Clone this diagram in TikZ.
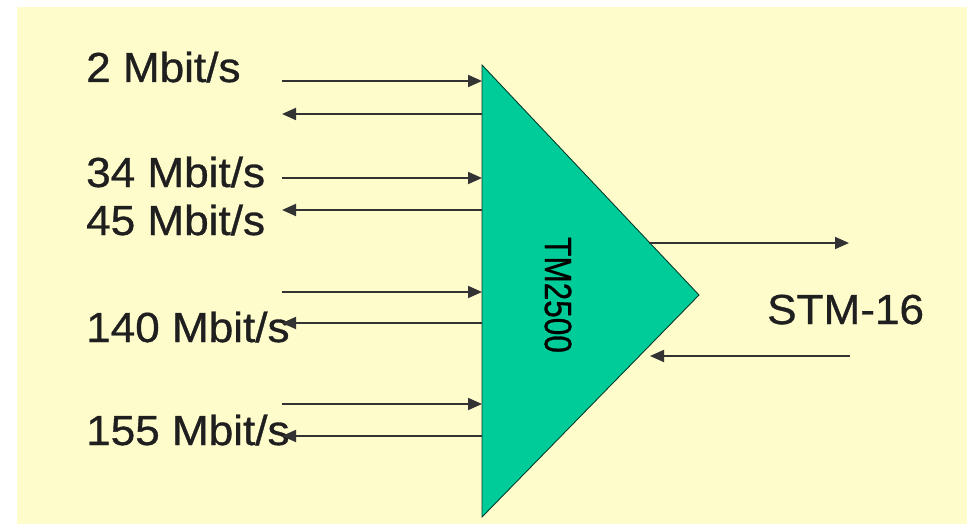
\documentclass[tikz,border=0pt]{standalone}
\usepackage{fontspec}
\setmainfont{Liberation Sans}
\newfontfamily\labfont[FakeStretch=1.05,FakeBold=0.8]{Liberation Sans}
\newfontfamily\tmfont[FakeStretch=0.83,FakeBold=0.8]{Liberation Sans}
\usetikzlibrary{arrows.meta}
\definecolor{bgyellow}{RGB}{255,252,204}
\definecolor{tmgreen}{RGB}{0,204,153}
\tikzset{
  lab/.style={anchor=base west, inner sep=0pt, font=\labfont\fontsize{42}{42}\selectfont, text=black!88},
  sig/.style={line width=1.8pt, draw=black!80, -{Triangle[length=14pt,width=12pt]}},
  tmbox/.style={fill=tmgreen, draw=black!70!tmgreen, line width=0.9pt, line join=miter},
}
\begin{document}
\begin{tikzpicture}[x=1pt,y=-1pt]
\useasboundingbox (0,0) rectangle (967,524);
\fill[bgyellow] (17,7) rectangle (967,524);
% multiplexer triangle
\coordinate (ta) at (482,65);
\coordinate (tb) at (482,517);
\coordinate (tc) at (699,295);
\path[tmbox] (ta) -- (tc) -- (tb) -- cycle;
\node[rotate=-90, inner sep=0pt, font=\tmfont\fontsize{38}{38}\selectfont] (tm) at (558,295) {TM2500};
% labels
\node[lab] (l2) at (86,82) {2 Mbit/s};
\node[lab] (l34) at (86,187) {34 Mbit/s};
\node[lab] (l45) at (86,235) {45 Mbit/s};
\node[lab] (l140) at (86,342) {140 Mbit/s};
\node[lab] (l155) at (86,445) {155 Mbit/s};
\node[lab] (stm) at (767,324) {STM-16};
% left side tributaries
\foreach \n/\y in {a/81,b/114,c/178,d/210,e/292,f/323,g/404,h/436}{
  \coordinate (o\n) at (282,\y);
  \coordinate (i\n) at (482,\y);
}
\draw[sig] (oa) -- (ia);
\draw[sig] (ib) -- (ob);
\draw[sig] (oc) -- (ic);
\draw[sig] (id) -- (od);
\draw[sig] (oe) -- (ie);
\draw[sig] (if) -- (of);
\draw[sig] (og) -- (ig);
\draw[sig] (ih) -- (oh);
% aggregate side
\coordinate (outs) at (649,243);
\coordinate (oute) at (849,243);
\coordinate (ins) at (850,356);
\coordinate (ine) at (650,356);
\draw[sig] (outs) -- (oute);
\draw[sig] (ins) -- (ine);
\end{tikzpicture}
\end{document}
